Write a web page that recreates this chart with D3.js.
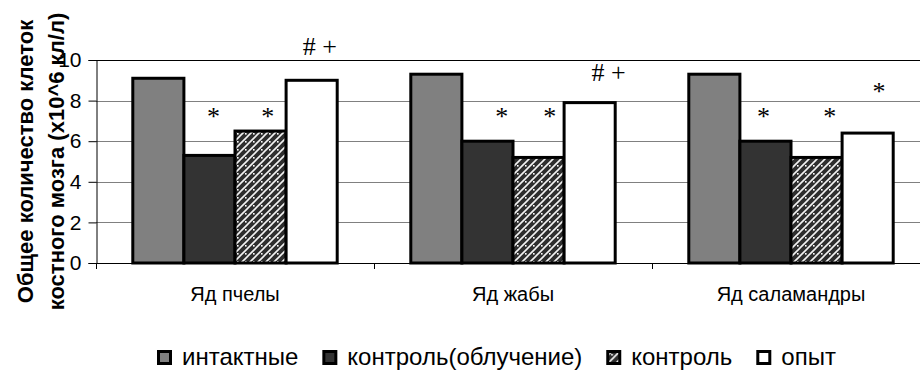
<!DOCTYPE html>
<html>
<head>
<meta charset="utf-8">
<script src="https://cdn.jsdelivr.net/npm/d3@7"></script>
<style>
  body { margin: 0; background: #fff; }
  text { font-family: "Liberation Sans", Arial, sans-serif; fill: #000; }
</style>
</head>
<body>
<svg id="chart" width="920" height="371"></svg>
<script>
// Bone-marrow cell counts per venom group
const categories = ["Яд пчелы", "Яд жабы", "Яд саламандры"];
const seriesNames = ["интактные", "контроль(облучение)", "контроль", "опыт"];
const intact = [9.1, 9.3, 9.3];
const irradiated = [5.3, 6.0, 6.0];
const control = [6.5, 5.2, 5.2];
const experiment = [9.0, 7.9, 6.4];
const yTicks = [0, 2, 4, 6, 8, 10];

// Significance marks: category, series, label, baseline value, sideways shift (in bar widths)
const marks = [
  { cat: 0, series: 1, text: "*", y: 6.82, shift: 0.08 },
  { cat: 0, series: 2, text: "*", y: 6.82, shift: 0.14 },
  { cat: 0, series: 3, text: "# +", y: 10.27, shift: 0.16 },
  { cat: 1, series: 1, text: "*", y: 6.82, shift: 0.28 },
  { cat: 1, series: 2, text: "*", y: 6.82, shift: 0.22 },
  { cat: 1, series: 3, text: "# +", y: 8.98, shift: 0.37 },
  { cat: 2, series: 1, text: "*", y: 6.82, shift: -0.04 },
  { cat: 2, series: 2, text: "*", y: 6.82, shift: 0.26 },
  { cat: 2, series: 3, text: "*", y: 8.05, shift: 0.22 }
];

const seriesValues = [intact, irradiated, control, experiment];
const fills = ["#808080", "#333333", "url(#mix)", "#ffffff"];

const svg = d3.select("#chart");
const plotLeft = 96, plotRight = 930, plotTop = 60, plotBottom = 263;

// Hatched fill for the "контроль" series: dark ground, white diagonals and dots
const defs = svg.append("defs");
const pat = defs.append("pattern")
  .attr("id", "mix").attr("patternUnits", "userSpaceOnUse")
  .attr("width", 8).attr("height", 8);
pat.append("rect").attr("width", 8).attr("height", 8).attr("fill", "#2e2e2e");
pat.append("path").attr("d", "M-2,10 L10,-2 M-2,2 L2,-2 M6,10 L10,6")
  .attr("stroke", "#f2f2f2").attr("stroke-width", 1.6);
pat.append("rect").attr("x", 5).attr("y", 5).attr("width", 1.6).attr("height", 1.6).attr("fill", "#fff");

const x0 = d3.scaleBand().domain(categories).range([plotLeft, plotRight]).paddingInner(0).paddingOuter(0);
const x1 = d3.scaleBand().domain(seriesNames).range([0, x0.bandwidth()]).paddingInner(0).paddingOuter(0.72);
const y = d3.scaleLinear().domain([0, 10]).range([plotBottom, plotTop]);

// Gridlines
svg.append("g").selectAll("line").data(yTicks.filter(t => t > 0)).join("line")
  .attr("x1", plotLeft).attr("x2", plotRight)
  .attr("y1", d => Math.round(y(d)) + 0.5).attr("y2", d => Math.round(y(d)) + 0.5)
  .attr("stroke", d => d === 10 ? "#000" : "#808080").attr("stroke-width", 1);

// Bars
const bars = [];
categories.forEach((c, ci) => seriesValues.forEach((vals, si) => {
  bars.push({ c, si, v: vals[ci] });
}));
svg.append("g").selectAll("rect").data(bars).join("rect")
  .attr("x", d => x0(d.c) + x1(seriesNames[d.si]))
  .attr("y", d => y(d.v))
  .attr("width", x1.bandwidth())
  .attr("height", d => y(0) - y(d.v))
  .attr("fill", d => fills[d.si])
  .attr("stroke", "#000").attr("stroke-width", 3);

// Y axis
const yAxis = svg.append("g").attr("transform", `translate(${plotLeft + 0.5},0)`)
  .call(d3.axisLeft(y).tickValues(yTicks).tickSize(8).tickPadding(7).tickFormat(d3.format("d")));
yAxis.select(".domain").attr("stroke", "#000");
yAxis.selectAll(".tick line").attr("stroke", "#000");
yAxis.selectAll("text").attr("font-size", 21).attr("font-family", "Liberation Sans, Arial, sans-serif");

// X axis: baseline, category separators, labels
svg.append("line").attr("x1", plotLeft).attr("x2", plotRight)
  .attr("y1", plotBottom + 0.5).attr("y2", plotBottom + 0.5).attr("stroke", "#000");
const bounds = categories.map(c => x0(c)).concat([plotRight]);
svg.append("g").selectAll("line").data(bounds).join("line")
  .attr("x1", d => Math.round(d) + 0.5).attr("x2", d => Math.round(d) + 0.5)
  .attr("y1", plotBottom).attr("y2", plotBottom + 6).attr("stroke", "#000");
const xAxis = svg.append("g").attr("transform", `translate(0,${plotBottom})`)
  .call(d3.axisBottom(x0).tickSize(0).tickPadding(24));
xAxis.select(".domain").remove();
xAxis.selectAll("text").attr("font-size", 20).attr("font-family", "Liberation Sans, Arial, sans-serif");

// Y axis title (two lines)
const title = svg.append("text")
  .attr("transform", `translate(33,${(plotTop + plotBottom) / 2}) rotate(-90)`)
  .attr("text-anchor", "middle").attr("font-weight", "bold").attr("font-size", 22);
title.append("tspan").attr("x", 0).attr("y", 0).text("Общее количество клеток");
title.append("tspan").attr("x", 0).attr("y", 31).text("костного мозга (х10^6 кл/л)");

// Significance marks
svg.append("g").selectAll("text").data(marks).join("text")
  .attr("x", d => x0(categories[d.cat]) + x1(seriesNames[d.series]) + x1.bandwidth() * (0.5 + d.shift))
  .attr("y", d => y(d.y))
  .attr("text-anchor", "middle")
  .style("font-family", "'Liberation Serif', 'Times New Roman', serif")
  .attr("font-size", 26)
  .text(d => d.text);

// Legend
const legend = svg.append("g").attr("transform", "translate(157,365)");
let lx = 0;
seriesNames.forEach((name, i) => {
  const g = legend.append("g").attr("transform", `translate(${lx},0)`);
  g.append("rect").attr("x", 1.5).attr("y", -13.5).attr("width", 12).attr("height", 12)
    .attr("fill", fills[i]).attr("stroke", "#000").attr("stroke-width", 3);
  const t = g.append("text").attr("x", 25).attr("y", 0).attr("font-size", 24).text(name);
  lx += 25 + t.node().getComputedTextLength() + 24;
});
</script>
</body>
</html>
